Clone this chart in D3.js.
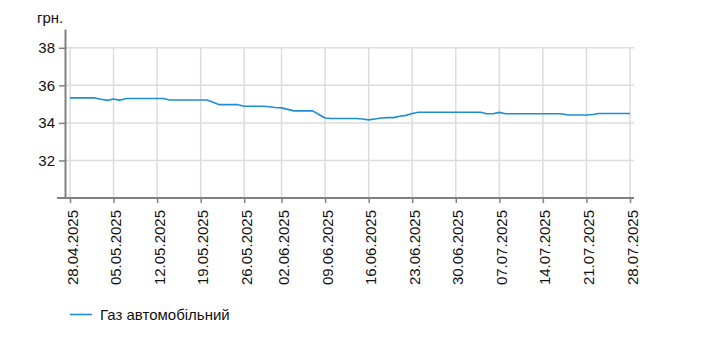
<!DOCTYPE html>
<html><head><meta charset="utf-8">
<script src="https://cdn.jsdelivr.net/npm/d3@7"></script>
<style>
body{margin:0;background:#fff;}
svg{display:block;font-family:Arial,"Liberation Sans",sans-serif;}
</style>
</head><body>
<svg id="chart" width="713" height="359"></svg>
<script>
const dates = [
 "28.04.2025","29.04.2025","30.04.2025",
 "01.05.2025","02.05.2025","03.05.2025","04.05.2025","05.05.2025","06.05.2025","07.05.2025","08.05.2025","09.05.2025","10.05.2025",
 "11.05.2025","12.05.2025","13.05.2025","14.05.2025","15.05.2025","16.05.2025","17.05.2025","18.05.2025","19.05.2025","20.05.2025",
 "21.05.2025","22.05.2025","23.05.2025","24.05.2025","25.05.2025","26.05.2025","27.05.2025","28.05.2025","29.05.2025","30.05.2025","31.05.2025",
 "02.06.2025","03.06.2025","04.06.2025","05.06.2025","06.06.2025","07.06.2025","08.06.2025","09.06.2025","10.06.2025",
 "11.06.2025","12.06.2025","13.06.2025","14.06.2025","15.06.2025","16.06.2025","17.06.2025","18.06.2025","19.06.2025","20.06.2025",
 "21.06.2025","22.06.2025","23.06.2025","24.06.2025","25.06.2025","26.06.2025","27.06.2025","28.06.2025","29.06.2025","30.06.2025",
 "01.07.2025","02.07.2025","03.07.2025","04.07.2025","05.07.2025","06.07.2025","07.07.2025","08.07.2025","09.07.2025","10.07.2025",
 "11.07.2025","12.07.2025","13.07.2025","14.07.2025","15.07.2025","16.07.2025","17.07.2025","18.07.2025","19.07.2025","20.07.2025",
 "21.07.2025","22.07.2025","23.07.2025","24.07.2025","25.07.2025","26.07.2025","27.07.2025","28.07.2025"
];
const gasPrices = [
 35.33,35.33,35.33,
 35.33,35.33,35.26,35.20,35.27,35.20,35.30,35.30,35.30,35.30,
 35.30,35.30,35.30,35.22,35.22,35.22,35.22,35.22,35.22,35.22,
 35.10,34.97,34.97,34.97,34.97,34.89,34.89,34.89,34.89,34.86,34.82,
 34.80,34.72,34.64,34.64,34.64,34.64,34.45,34.26,34.23,
 34.23,34.23,34.23,34.23,34.21,34.16,34.21,34.26,34.28,34.28,
 34.35,34.40,34.50,34.57,34.57,34.57,34.57,34.57,34.57,34.57,
 34.57,34.57,34.57,34.57,34.49,34.49,34.56,34.49,34.49,34.49,
 34.49,34.49,34.49,34.49,34.49,34.49,34.49,34.42,34.42,34.42,
 34.42,34.45,34.50,34.50,34.50,34.50,34.50,34.50
];
const xTickLabels = ["28.04.2025","05.05.2025","12.05.2025","19.05.2025","26.05.2025","02.06.2025","09.06.2025",
 "16.06.2025","23.06.2025","30.06.2025","07.07.2025","14.07.2025","21.07.2025","28.07.2025"];
const yTicks = [32,34,36,38];
const unitLabel = "грн.";
const seriesName = "Газ автомобільний";
const lineColor = "#1f8dd6";
const fontSize = 15;

const svg = d3.select("#chart");
const x = d3.scalePoint().domain(dates).range([70, 630]);
const y = d3.scaleLinear().domain([30, 39]).range([198, 29]);

// grid
const grid = svg.append("g");
grid.selectAll("line.h").data(yTicks).join("line")
  .attr("x1", 65).attr("x2", 634)
  .attr("y1", d => y(d)).attr("y2", d => y(d))
  .attr("stroke", "#dcdcdc").attr("stroke-width", 1.5);
grid.selectAll("line.v").data(xTickLabels).join("line")
  .attr("x1", d => x(d)).attr("x2", d => x(d))
  .attr("y1", y(38)).attr("y2", y(30))
  .attr("stroke", "#dcdcdc").attr("stroke-width", 1.5);

// y axis
const yAxis = svg.append("g").attr("transform", "translate(65,0)")
  .call(d3.axisLeft(y).tickValues(yTicks).tickSize(6).tickSizeOuter(0).tickPadding(4));
yAxis.select(".domain").attr("stroke", "#808080").attr("stroke-width", 2);
yAxis.selectAll(".tick line").attr("stroke", "#808080").attr("stroke-width", 1.5);
yAxis.selectAll(".tick text").attr("font-size", fontSize).attr("fill", "#111")
  .attr("font-family", "Arial, 'Liberation Sans', sans-serif");

// x axis
const xAxis = svg.append("g").attr("transform", "translate(0,198)")
  .call(d3.axisBottom(x).tickValues(xTickLabels).tickSize(5).tickSizeOuter(0));
xAxis.select(".domain").remove();
xAxis.append("line").attr("x1", 57).attr("x2", 634).attr("y1", 0).attr("y2", 0)
  .attr("stroke", "#808080").attr("stroke-width", 2);
xAxis.selectAll(".tick line").attr("stroke", "#808080").attr("stroke-width", 1.5);
xAxis.selectAll(".tick text")
  .attr("font-size", fontSize).attr("fill", "#111")
  .attr("font-family", "Arial, 'Liberation Sans', sans-serif")
  .attr("text-anchor", "end")
  .attr("dy", null).attr("y", null)
  .attr("transform", "translate(7,12) rotate(-90)");

// unit label
svg.append("text").attr("x", 37).attr("y", 23).attr("font-size", fontSize).attr("fill", "#111").text(unitLabel);

// line
svg.append("path").datum(gasPrices)
  .attr("fill", "none").attr("stroke", lineColor).attr("stroke-width", 1.6)
  .attr("stroke-linejoin", "round")
  .attr("d", d3.line().x((d, i) => x(dates[i])).y(d => y(d)));

// legend
const lg = svg.append("g");
lg.append("line").attr("x1", 70).attr("x2", 92).attr("y1", 314.5).attr("y2", 314.5)
  .attr("stroke", lineColor).attr("stroke-width", 1.6);
lg.append("text").attr("x", 100).attr("y", 320).attr("font-size", fontSize).attr("fill", "#111").text(seriesName);
</script>
</body></html>
